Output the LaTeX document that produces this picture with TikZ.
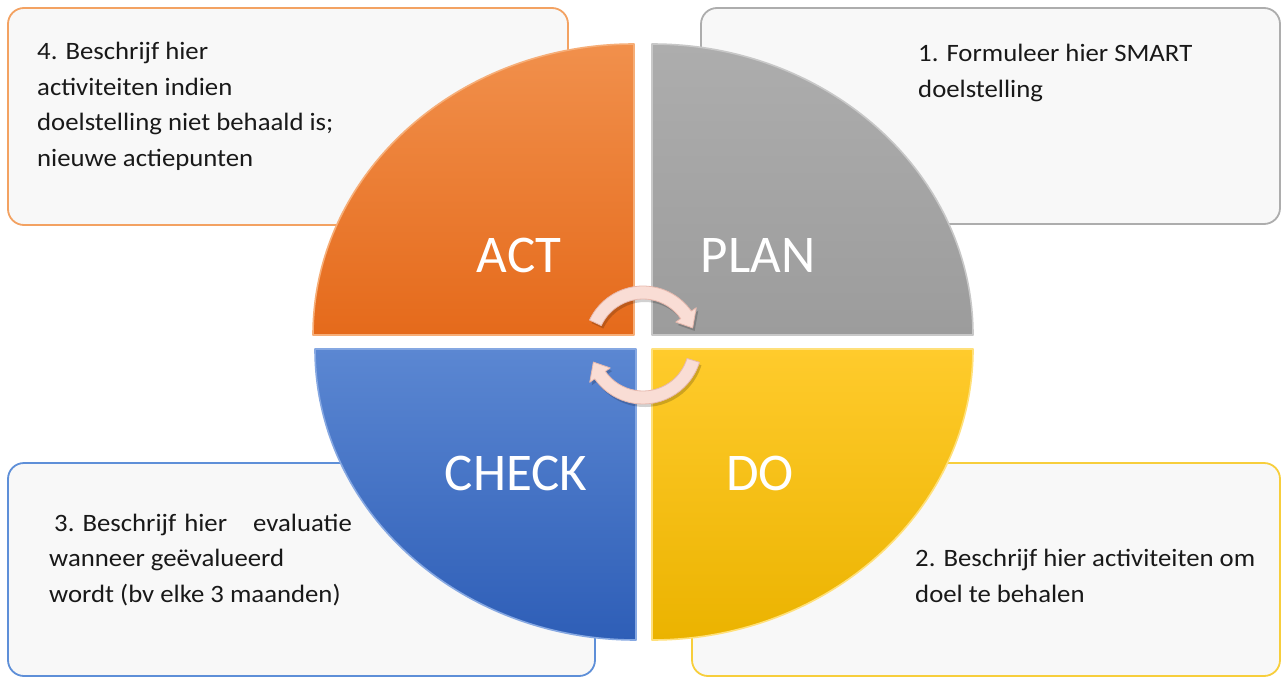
\documentclass[tikz,border=0pt]{standalone}
\usepackage{fontspec}
\setmainfont{Carlito}
\newfontfamily\boxfont{Carlito}[FakeStretch=1.07]
\definecolor{boxfill}{HTML}{F8F8F8}
\definecolor{actborder}{HTML}{F3A262}
\definecolor{planborder}{HTML}{ADADAD}
\definecolor{checkborder}{HTML}{5E8FD8}
\definecolor{doborder}{HTML}{F7CE3C}
\definecolor{acttop}{HTML}{F1904C}
\definecolor{actbot}{HTML}{E56A1B}
\definecolor{actrim}{HTML}{F6AE78}
\definecolor{plantop}{HTML}{ADADAD}
\definecolor{planbot}{HTML}{9C9C9C}
\definecolor{planrim}{HTML}{C8C8C8}
\definecolor{checktop}{HTML}{5B87D2}
\definecolor{checkbot}{HTML}{2E5EB7}
\definecolor{checkrim}{HTML}{86A8E2}
\definecolor{dotop}{HTML}{FFCB2C}
\definecolor{dobot}{HTML}{EBB300}
\definecolor{dorim}{HTML}{FFE07A}
\definecolor{arrowpink}{HTML}{F9DDD5}
\definecolor{arrowedge}{HTML}{E7B9AE}
\begin{document}
\begin{tikzpicture}[x=1pt,y=-1pt,
  boxstyle/.style={rounded corners=16pt, fill=boxfill, line width=1.8pt},
  quadlabel/.style={text=white, font=\fontsize{53}{53}\selectfont, anchor=base, inner sep=0pt},
  boxtext/.style={font=\boxfont\fontsize{25}{35.5}\selectfont, align=left, anchor=base west, inner sep=0pt, text=black!90},
  quadrim/.style={line width=1.6pt, line join=round},
  arrowshape/.style={fill=arrowpink, draw=arrowedge, line width=0.8pt, line join=round},
  arrowshadow/.style={fill=black, opacity=0.18}]
\useasboundingbox (0,0) rectangle (1282,677);
\fill[white] (0,0) rectangle (1282,677);
% text boxes
\draw[boxstyle, draw=actborder] (8,8) rectangle (568,225);
\draw[boxstyle, draw=planborder] (701,8) rectangle (1280,224);
\draw[boxstyle, draw=checkborder] (8,463) rectangle (595,676);
\draw[boxstyle, draw=doborder] (692,463) rectangle (1280,676);
% quadrants
\shade[top color=acttop, bottom color=actbot]
  (634,335) -- ++(-321,0) arc[start angle=180, end angle=270, x radius=321, y radius=291] -- cycle;
\draw[quadrim, draw=actrim]
  (634,335) -- ++(-321,0) arc[start angle=180, end angle=270, x radius=321, y radius=291] -- cycle;
\shade[top color=plantop, bottom color=planbot]
  (652,335) -- ++(0,-291) arc[start angle=270, end angle=360, x radius=321, y radius=291] -- cycle;
\draw[quadrim, draw=planrim]
  (652,335) -- ++(0,-291) arc[start angle=270, end angle=360, x radius=321, y radius=291] -- cycle;
\shade[top color=dotop, bottom color=dobot]
  (652,349) -- ++(321,0) arc[start angle=0, end angle=90, x radius=321, y radius=291] -- cycle;
\draw[quadrim, draw=dorim]
  (652,349) -- ++(321,0) arc[start angle=0, end angle=90, x radius=321, y radius=291] -- cycle;
\shade[top color=checktop, bottom color=checkbot]
  (636,349) -- ++(0,291) arc[start angle=90, end angle=180, x radius=321, y radius=291] -- cycle;
\draw[quadrim, draw=checkrim]
  (636,349) -- ++(0,291) arc[start angle=90, end angle=180, x radius=321, y radius=291] -- cycle;
% quadrant labels
\node[quadlabel] (act) at (519,272) {ACT};
\node[quadlabel] (plan) at (758,272) {PLAN};
\node[quadlabel] (check) at (516,490) {CHECK};
\node[quadlabel] (do) at (760,490) {DO};
% cycle arrows
\begin{scope}[shift={(645,348)}]
  \fill[arrowshadow] (-155:59) arc[start angle=-155, end angle=-35, radius=59] -- (-35:65) -- (-19:52.5) -- (-35:40) -- (-35:46) arc[start angle=-35, end angle=-155, radius=46] -- cycle;
\end{scope}
\begin{scope}[shift={(643,345)}]
  \path[arrowshape] (-155:59) arc[start angle=-155, end angle=-35, radius=59] -- (-35:65) -- (-19:52.5) -- (-35:40) -- (-35:46) arc[start angle=-35, end angle=-155, radius=46] -- cycle;
\end{scope}
\begin{scope}[shift={(645,348)}]
  \fill[arrowshadow] (17:59) arc[start angle=17, end angle=145, radius=59] -- (145:65) -- (161:52.5) -- (145:40) -- (145:46) arc[start angle=145, end angle=17, radius=46] -- cycle;
\end{scope}
\begin{scope}[shift={(643,345)}]
  \path[arrowshape] (17:59) arc[start angle=17, end angle=145, radius=59] -- (145:65) -- (161:52.5) -- (145:40) -- (145:46) arc[start angle=145, end angle=17, radius=46] -- cycle;
\end{scope}
% box texts (base anchor = baseline of the last line)
\node[boxtext] (acttext) at (37,166) {4. Beschrijf hier\\activiteiten indien\\doelstelling niet behaald is;\\nieuwe actiepunten};
\node[boxtext] (plantext) at (918,97) {1. Formuleer hier SMART\\doelstelling};
\node[boxtext] (checktext) at (49,602) {\hspace{5pt}3. Beschrijf\hspace{2pt} hier\hspace{20pt} evaluatie\\wanneer geëvalueerd\\wordt (bv elke 3 maanden)};
\node[boxtext] (dotext) at (915,602) {2. Beschrijf hier activiteiten om\\doel te behalen};
\end{tikzpicture}
\end{document}
